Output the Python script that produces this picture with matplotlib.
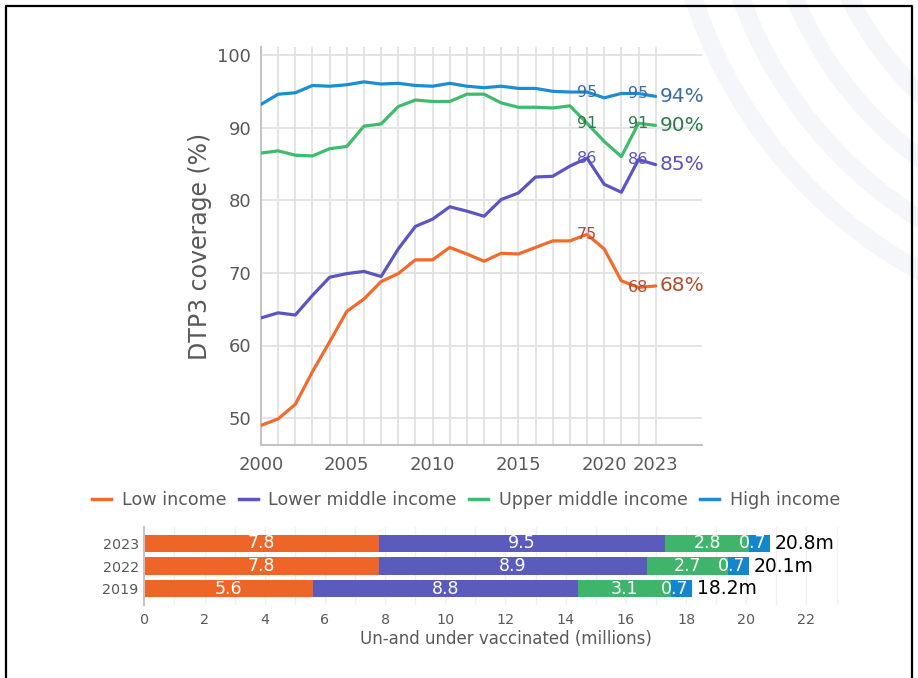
import matplotlib
matplotlib.use("Agg")
import matplotlib.pyplot as plt
from matplotlib.patches import Arc
from matplotlib.lines import Line2D

plt.rcParams["font.family"] = ["DejaVu Sans"]

# DTP3 coverage by World Bank income group
years = list(range(2000, 2024))
low_income = [49.0, 49.9, 51.9, 56.4, 60.5, 64.7, 66.4, 68.8, 69.9, 71.8, 71.8, 73.5,
              72.6, 71.6, 72.7, 72.6, 73.5, 74.4, 74.4, 75.3, 73.3, 68.9, 68.0, 68.2]
lower_middle = [63.8, 64.5, 64.2, 66.9, 69.4, 69.9, 70.2, 69.5, 73.3, 76.4, 77.4, 79.1,
                78.5, 77.8, 80.1, 81.0, 83.2, 83.3, 84.7, 85.8, 82.2, 81.1, 85.6, 84.9]
upper_middle = [86.5, 86.8, 86.2, 86.1, 87.1, 87.4, 90.2, 90.5, 92.9, 93.8, 93.6, 93.6,
                94.6, 94.6, 93.4, 92.8, 92.8, 92.7, 93.0, 90.6, 88.1, 86.0, 90.6, 90.3]
high_income = [93.2, 94.6, 94.8, 95.8, 95.7, 95.9, 96.3, 96.0, 96.1, 95.8, 95.7, 96.1,
               95.7, 95.5, 95.7, 95.4, 95.4, 95.0, 94.9, 94.9, 94.1, 94.7, 94.7, 94.3]
group_names = ["Low income", "Lower middle income", "Upper middle income", "High income"]
labelled_years = [2019, 2022]
xtick_years = [2000, 2005, 2010, 2015, 2020, 2023]

# Un- and under-vaccinated children (millions)
bar_years = ["2019", "2022", "2023"]
bar_low = [5.6, 7.8, 7.8]
bar_lower_mid = [8.8, 8.9, 9.5]
bar_upper_mid = [3.1, 2.7, 2.8]
bar_high = [0.7, 0.7, 0.7]

line_colors = ["#f26a2c", "#5a55c2", "#3fbb6c", "#1a8dd3"]
text_colors = ["#b24c2c", "#5a52bd", "#2e7a4c", "#3a6ca6"]
bar_colors = ["#ee6627", "#5b5abd", "#3fb56b", "#1486cc"]
GRAY = "#595959"

W, H = 918, 678
fig = plt.figure(figsize=(W / 100, H / 100), dpi=100)

# background decoration and frame
bg = fig.add_axes([0, 0, 1, 1], zorder=-10)
bg.set_xlim(0, W)
bg.set_ylim(H, 0)
bg.axis("off")
for r in (335, 385, 435, 480):
    bg.add_patch(Arc((1150, -150), 2 * r, 2 * r, theta1=90, theta2=180,
                     color="#f4f6f9", lw=13))
bg.plot([6, 6, 912, 912], [H + 5, 6, 6, H + 5], color="black", lw=1.6)

# ---- line chart ----
ax = fig.add_axes([261 / W, 1 - 445 / H, 441 / W, 398 / H])
ax.set_facecolor("none")
series = [low_income, lower_middle, upper_middle, high_income]
for vals, c, tc, name in zip(series, line_colors, text_colors, group_names):
    ax.plot(years, vals, color=c, lw=2.3, label=name, zorder=3, solid_capstyle="round")
    for yr in labelled_years:
        v = vals[years.index(yr)]
        ax.text(yr, v, f"{round(v):.0f}", color=tc, fontsize=11.5,
                ha="center", va="center", zorder=4)
    ax.text(years[-1] + 0.25, vals[-1], f"{round(vals[-1]):.0f}%", color=tc,
            fontsize=14.5, ha="left", va="center", zorder=4)

ax.set_xlim(2000, 2025.7)
ax.set_ylim(46.3, 101.1)
ax.set_xticks(years)
ax.set_xticklabels([str(y) if y in xtick_years else "" for y in years])
ax.set_yticks([50, 60, 70, 80, 90, 100])
ax.grid(True, color="#e2e2e2", lw=1.3, zorder=0)
ax.set_axisbelow(True)
ax.tick_params(length=0, labelsize=13, labelcolor=GRAY, pad=7)
ax.tick_params(axis="x", pad=8)
for s in ("top", "right"):
    ax.spines[s].set_visible(False)
for s in ("left", "bottom"):
    ax.spines[s].set_color("#c4c4c4")
    ax.spines[s].set_linewidth(1.5)
ax.set_ylabel("DTP3 coverage (%)", fontsize=17, color=GRAY, labelpad=4)

handles = [Line2D([], [], color=c, lw=2.5) for c in line_colors]
fig.legend(handles, group_names, loc="center", bbox_to_anchor=(466 / W, 1 - 500 / H),
           ncol=4, frameon=False, fontsize=12.6, labelcolor=GRAY,
           handlelength=1.1, handletextpad=0.6, columnspacing=0.7)

# ---- stacked bar chart ----
bx = fig.add_axes([144.3 / W, 1 - 605 / H, 722.4 / W, 78 / H])
bx.set_facecolor("none")
ypos = list(range(len(bar_years)))
left = [0.0] * len(bar_years)
parts = [bar_low, bar_lower_mid, bar_upper_mid, bar_high]
for k, (vals, c) in enumerate(zip(parts, bar_colors)):
    bx.barh(ypos, vals, left=left, height=0.76, color=c, zorder=2)
    for i, v in enumerate(vals):
        if k < 3:
            bx.text(left[i] + v / 2, i, f"{v:.1f}", color="white", fontsize=12.5,
                    ha="center", va="center", zorder=3)
        else:
            bx.text(left[i] + v - 0.12, i, f"{v:.1f}", color="white", fontsize=12.5,
                    ha="right", va="center", zorder=3)
    left = [a + b for a, b in zip(left, vals)]
for i, tot in enumerate(left):
    bx.text(tot + 0.15, i, f"{tot:.1f}m", color="black", fontsize=13.5,
            ha="left", va="center", zorder=3)

bx.set_xlim(0, 24)
bx.set_ylim(-0.73, 2.73)
bx.set_yticks(ypos)
bx.set_yticklabels(bar_years)
bx.set_xticks(range(0, 23, 2))
bx.set_xticks(range(0, 24), minor=True)
bx.grid(True, axis="x", which="both", color="#f0f0f0", lw=1.0, zorder=0)
bx.set_axisbelow(True)
bx.tick_params(which="both", length=0, labelsize=10.3, labelcolor=GRAY)
bx.tick_params(axis="x", pad=6)
bx.tick_params(axis="y", pad=4)
for s in ("top", "right", "bottom"):
    bx.spines[s].set_visible(False)
bx.spines["left"].set_color("#c4c4c4")
bx.spines["left"].set_linewidth(1.5)
bx.set_xlabel("Un-and under vaccinated (millions)", fontsize=12, color=GRAY, labelpad=2)

fig.savefig("out.png", dpi=100)
